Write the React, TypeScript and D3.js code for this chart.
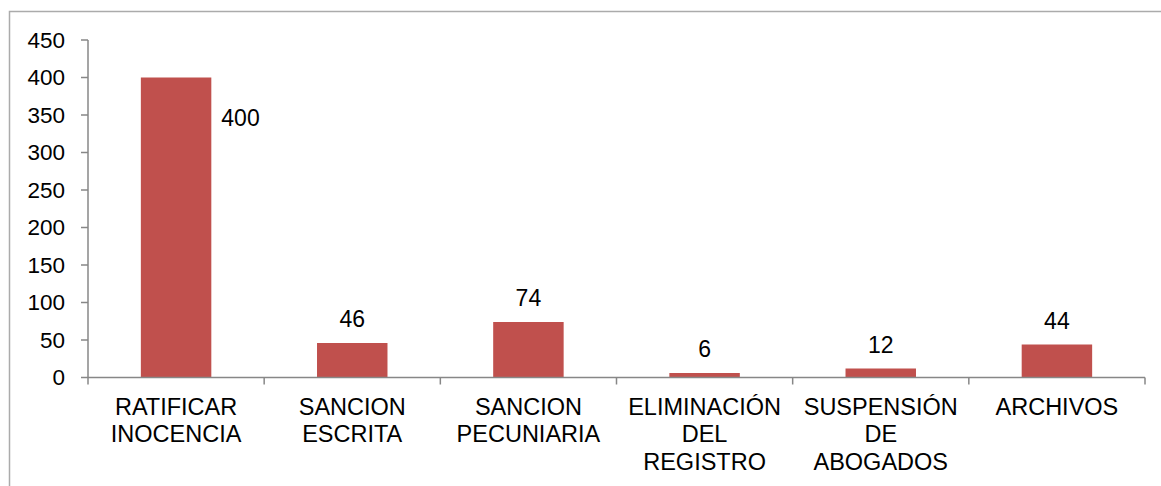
import React from "react";
import * as d3 from "d3";

const categories = [
  "RATIFICAR INOCENCIA",
  "SANCION ESCRITA",
  "SANCION PECUNIARIA",
  "ELIMINACIÓN DEL REGISTRO",
  "SUSPENSIÓN DE ABOGADOS",
  "ARCHIVOS",
];
const values = [400, 46, 74, 6, 12, 44];
const yTicks = [0, 50, 100, 150, 200, 250, 300, 350, 400, 450];

const W = 1161;
const H = 486;
const FONT = "'Liberation Sans', Arial, sans-serif";
const AXIS = "#878787";
const BAR = "#C0504D";

export default function App() {
  const x = d3
    .scaleBand<string>()
    .domain(categories)
    .range([88, 1145])
    .paddingInner(0.6)
    .paddingOuter(0.3);
  const step = x.step();
  const y = d3.scaleLinear().domain([0, 450]).range([377.5, 40]);
  const left = 88;
  const boundaries = d3.range(categories.length + 1).map((i) => left + i * step);

  return (
    <svg
      width={W}
      height={H}
      style={{ position: "absolute", left: 0, top: 0, background: "#fff" }}
      fontFamily={FONT}
    >
      <rect x={0} y={0} width={W} height={H} fill="#fff" />
      {/* chart border */}
      <path d={`M9.5,${H + 2} V11.5 H${W + 2}`} fill="none" stroke="#ABABAB" strokeWidth={1.5} />

      {/* bars */}
      {values.map((v, i) => (
        <rect
          key={categories[i]}
          x={x(categories[i])!}
          y={y(v)}
          width={x.bandwidth()}
          height={y(0) - y(v)}
          fill={BAR}
        />
      ))}

      {/* y axis */}
      <line x1={left} x2={left} y1={y(450)} y2={y(0)} stroke={AXIS} strokeWidth={1.5} />
      {yTicks.map((t) => (
        <g key={t}>
          <line x1={81} x2={left} y1={y(t)} y2={y(t)} stroke={AXIS} strokeWidth={1.5} />
          <text x={65} y={y(t)} textAnchor="end" dominantBaseline="central" fontSize={22.5} fill="#000">
            {t}
          </text>
        </g>
      ))}

      {/* x axis */}
      <line x1={left} x2={1145} y1={y(0)} y2={y(0)} stroke={AXIS} strokeWidth={1.5} />
      {boundaries.map((b, i) => (
        <line key={i} x1={b} x2={b} y1={y(0)} y2={384.5} stroke={AXIS} strokeWidth={1.5} />
      ))}

      {/* category labels */}
      {categories.map((c) => {
        const cx = x(c)! + x.bandwidth() / 2;
        const lines = c.split(" ");
        return (
          <text key={c} textAnchor="middle" fontSize={23.5} fill="#000">
            {lines.map((ln, j) => (
              <tspan key={j} x={cx} y={414.5 + j * 27.6}>
                {ln}
              </tspan>
            ))}
          </text>
        );
      })}

      {/* data labels */}
      {values.map((v, i) => {
        const bx = x(categories[i])!;
        if (i === 0) {
          return (
            <text key={i} x={bx + x.bandwidth() + 10} y={y(v) + 48.5} fontSize={23} fill="#000">
              {v}
            </text>
          );
        }
        return (
          <text
            key={i}
            x={bx + x.bandwidth() / 2}
            y={y(v) - 16}
            textAnchor="middle"
            fontSize={23}
            fill="#000"
          >
            {v}
          </text>
        );
      })}
    </svg>
  );
}
